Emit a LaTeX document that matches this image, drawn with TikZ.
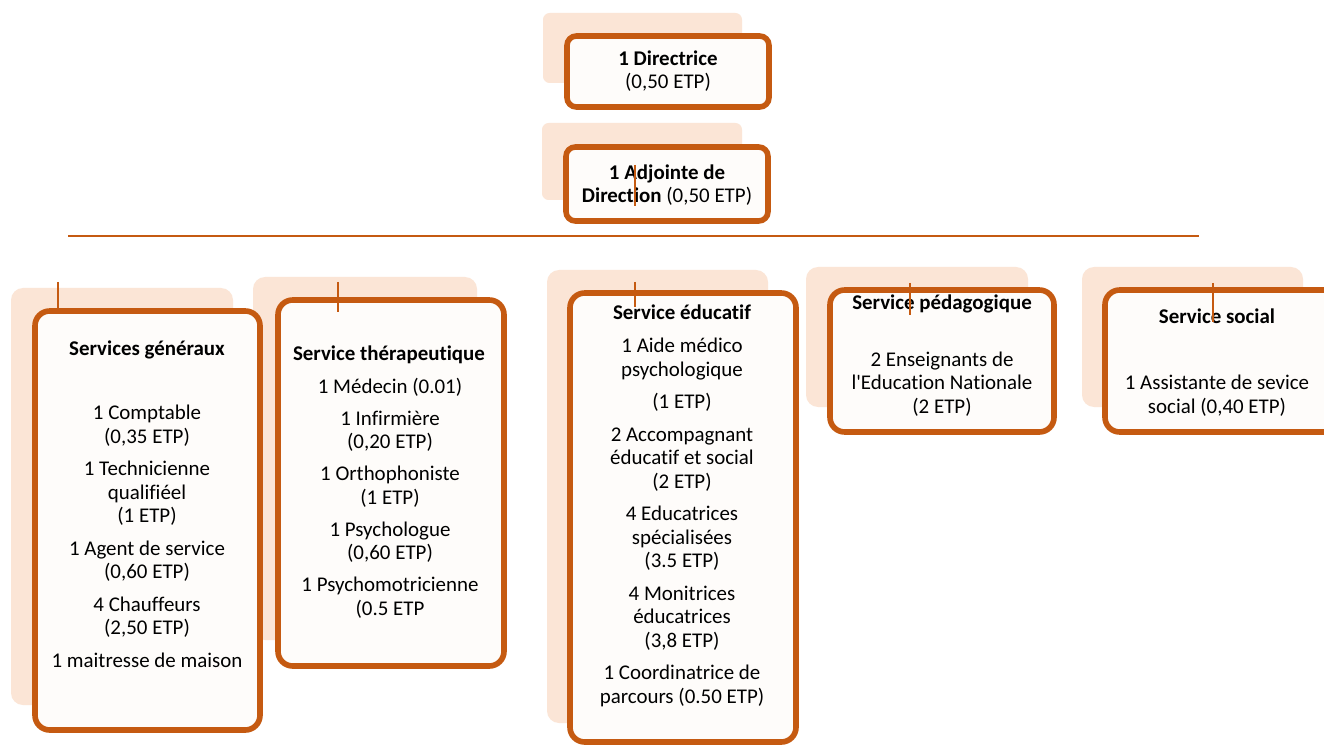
\documentclass[tikz,border=0pt]{standalone}
\usepackage{fontspec}
\setmainfont{Carlito}[Ligatures=NoCommon]
\usetikzlibrary{fit}
\definecolor{orng}{RGB}{197,90,17}
\definecolor{peach}{RGB}{251,229,214}
\definecolor{paper}{RGB}{254,252,250}
\newcommand{\boxfont}{\fontsize{15.7pt}{17.6pt}\selectfont}
\begin{document}
\begin{tikzpicture}[x=0.75pt,y=-0.75pt,
  backbox/.style={fill=peach, rounded corners=9pt},
  smallback/.style={fill=peach, rounded corners=5pt},
  frontbox/.style={draw=orng, line width=4.2pt, fill=paper, rounded corners=11pt, inner sep=0pt},
  smallfront/.style={frontbox, rounded corners=7pt},
  tick/.style={draw=orng, line width=1.1pt},
  body/.style={font=\boxfont, align=center, anchor=base, inner sep=0pt},
  title/.style={body, font=\boxfont\bfseries}]
\clip (0,0) rectangle (1324,745);
\fill[white] (0,0) rectangle (1324,745);
% back shapes
\fill[smallback] (543,13) rectangle (742,83);
\fill[smallback] (542,123) rectangle (742,200);
\fill[backbox] (11,288) rectangle (233,705);
\fill[backbox] (253,277) rectangle (477,640);
\fill[backbox] (547,270) rectangle (768,723);
\fill[backbox] (806,267) rectangle (1028,407);
\fill[backbox] (1082,267) rectangle (1303,407);
% horizontal line
\coordinate (hl) at (68,236);
\coordinate (hr) at (1199,236);
\draw[tick] (hl) -- (hr);
% front boxes
\node[smallfront, fit={(567,36)(769,107)}] (dir) {};
\node[smallfront, fit={(566,147)(768,221)}] (adj) {};
\node[frontbox, fit={(35,311)(260,730)}] (sg) {};
\node[frontbox, fit={(278,300)(504,666)}] (th) {};
\node[frontbox, fit={(570,293)(796,742)}] (ed) {};
\node[frontbox, fit={(830,290)(1054,432)}] (pe) {};
\node[frontbox, fit={(1105,290)(1345,432)}] (so) {};
% texts (anchor = baseline of the last line)
\node[body] (dirT) at (668,89) {\textbf{1 Directrice}\\(0,50 ETP)};
\node[body] (adjT) at (667,203) {\textbf{1 Adjointe de}\\\textbf{Direction} (0,50 ETP)};
\node[title] (sgT) at (147,355) {Services généraux};
\node[body] (sgB) at (147,667) {1 Comptable\\(0,35 ETP)\\[6.8pt]1 Technicienne\\qualifiéel\\(1 ETP)\\[6.8pt]1 Agent de service\\(0,60 ETP)\\[6.8pt]4 Chauffeurs\\(2,50 ETP)\\[6.8pt]1 maitresse de maison};
\node[title] (thT) at (389,360) {Service thérapeutique};
\node[body] (thB) at (390,615) {1 Médecin (0.01)\\[6.4pt]1 Infirmière\\(0,20 ETP)\\[6.4pt]1 Orthophoniste\\(1 ETP)\\[6.4pt]1 Psychologue\\(0,60 ETP)\\[6.4pt]1 Psychomotricienne\\(0.5 ETP};
\node[title] (edT) at (682,320) {Service éducatif};
\node[body] (edB) at (682,703) {1 Aide médico\\psychologique\\[6.8pt](1 ETP)\\[6.8pt]2 Accompagnant\\éducatif et social\\(2 ETP)\\[6.8pt]4 Educatrices\\spécialisées\\(3.5 ETP)\\[6.8pt]4 Monitrices\\éducatrices\\(3,8 ETP)\\[6.8pt]1 Coordinatrice de\\parcours (0.50 ETP)};
\node[title] (peT) at (942,310) {Service pédagogique};
\node[body] (peB) at (942,413) {2 Enseignants de\\l\textquotesingle Education Nationale\\(2 ETP)};
\node[title] (soT) at (1217,323) {Service social};
\node[body] (soB) at (1217,413) {1 Assistante de sevice\\social (0,40 ETP)};
% ticks
\draw[tick] (635,165) -- (635,206);
\draw[tick] (58,282) -- (58,308);
\draw[tick] (338,282) -- (338,312);
\draw[tick] (635,282) -- (635,307);
\draw[tick] (910,283) -- (910,315);
\draw[tick] (1213,283) -- (1213,322);
\end{tikzpicture}
\end{document}
